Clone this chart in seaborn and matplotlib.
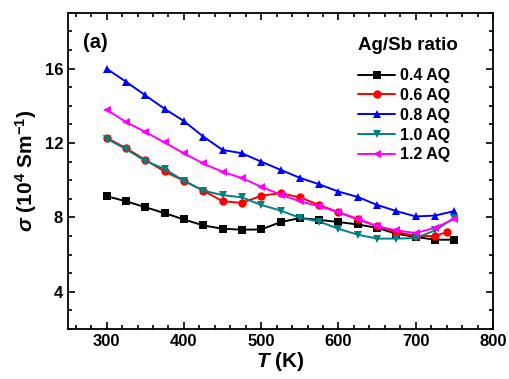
import pandas as pd
import seaborn as sns
import matplotlib
matplotlib.use("Agg")
import matplotlib.pyplot as plt
from matplotlib.ticker import MultipleLocator

sns.set_theme(style="ticks")
plt.rcParams['font.family'] = ['Liberation Sans', 'DejaVu Sans']
plt.rcParams['font.weight'] = 'bold'
plt.rcParams['mathtext.fontset'] = 'custom'
plt.rcParams['mathtext.rm'] = 'Liberation Sans:bold'
plt.rcParams['mathtext.it'] = 'Liberation Sans:italic:bold'
plt.rcParams['mathtext.bf'] = 'Liberation Sans:bold'
for k in ['text.color', 'axes.labelcolor', 'xtick.color', 'ytick.color', 'axes.edgecolor']:
    plt.rcParams[k] = 'black'

# temperature (K)
T = [300, 325, 350, 375, 400, 425, 450, 475, 500, 525,
     550, 575, 600, 625, 650, 675, 700, 725, 750]
T_red = T[:-1] + [740]

labels = ["0.4 AQ", "0.6 AQ", "0.8 AQ", "1.0 AQ", "1.2 AQ"]
sig_04 = [9.14, 8.87, 8.55, 8.23, 7.89, 7.57, 7.39, 7.34, 7.35, 7.75,
          7.96, 7.87, 7.75, 7.62, 7.44, 7.12, 6.95, 6.80, 6.80]
sig_06 = [12.29, 11.72, 11.10, 10.47, 9.97, 9.44, 8.87, 8.78, 9.17, 9.30,
          9.08, 8.67, 8.28, 7.89, 7.53, 7.21, 7.00, 7.00, 7.21]
sig_08 = [16.0, 15.3, 14.57, 13.84, 13.18, 12.35, 11.63, 11.45, 11.0, 10.56,
          10.13, 9.78, 9.39, 9.10, 8.67, 8.34, 8.05, 8.10, 8.34]
sig_10 = [12.24, 11.67, 11.04, 10.60, 9.97, 9.44, 9.20, 9.08, 8.67, 8.37,
          7.98, 7.78, 7.39, 7.07, 6.86, 6.86, 6.89, 7.30, 7.98]
sig_12 = [13.8, 13.13, 12.6, 12.03, 11.45, 10.9, 10.45, 10.12, 9.65, 9.23,
          8.87, 8.6, 8.28, 7.93, 7.53, 7.3, 7.16, 7.44, 7.93]

colors = ["black", "#FF0000", "#0000FF", "#008080", "#FF00FF"]
markers = ["s", "o", "^", "v", "<"]

frames = []
for lab, xs, ys in zip(labels, [T, T_red, T, T, T], [sig_04, sig_06, sig_08, sig_10, sig_12]):
    frames.append(pd.DataFrame({"T": xs, "sigma": ys, "sample": lab}))
df = pd.concat(frames, ignore_index=True)

fig = plt.figure(figsize=(5.09, 3.79), dpi=100)
ax = fig.add_axes([0.1336, 0.132, 0.835, 0.834])

sns.lineplot(data=df, x="T", y="sigma", hue="sample", style="sample",
             palette=dict(zip(labels, colors)), markers=dict(zip(labels, markers)),
             dashes=False, markersize=6, markeredgewidth=0, linewidth=1.4,
             sort=False, ax=ax)

ax.set_xlim(250, 800)
ax.set_ylim(2, 19)
ax.xaxis.set_major_locator(MultipleLocator(100))
ax.xaxis.set_minor_locator(MultipleLocator(20))
ax.yaxis.set_major_locator(MultipleLocator(4))
ax.yaxis.set_minor_locator(MultipleLocator(1))
ax.tick_params(which='both', direction='in', top=True, right=True, width=1.2)
ax.tick_params(which='major', length=5, labelsize=12)
ax.tick_params(which='minor', length=3)
for sp in ax.spines.values():
    sp.set_linewidth(1.3)

ax.set_xlabel(r"$T$ (K)", fontsize=15, fontweight='bold', labelpad=1)
ax.set_ylabel(r"$\sigma$ (10$^4$ Sm$^{-1}$)", fontsize=15, fontweight='bold', labelpad=4)

ax.text(0.035, 0.935, "(a)", transform=ax.transAxes, fontsize=14.5,
        fontweight='bold', va='top', ha='left')

leg = ax.legend(title="Ag/Sb ratio", loc="upper left", bbox_to_anchor=(0.664, 0.948),
                frameon=False, fontsize=11.5, title_fontsize=13.5, borderpad=0,
                handlelength=2.3, handletextpad=0.3, labelspacing=0.3)
leg.get_title().set_fontweight('bold')
leg._legend_box.align = "left"
leg._legend_box.sep = 10

fig.savefig("out.png", dpi=100)
